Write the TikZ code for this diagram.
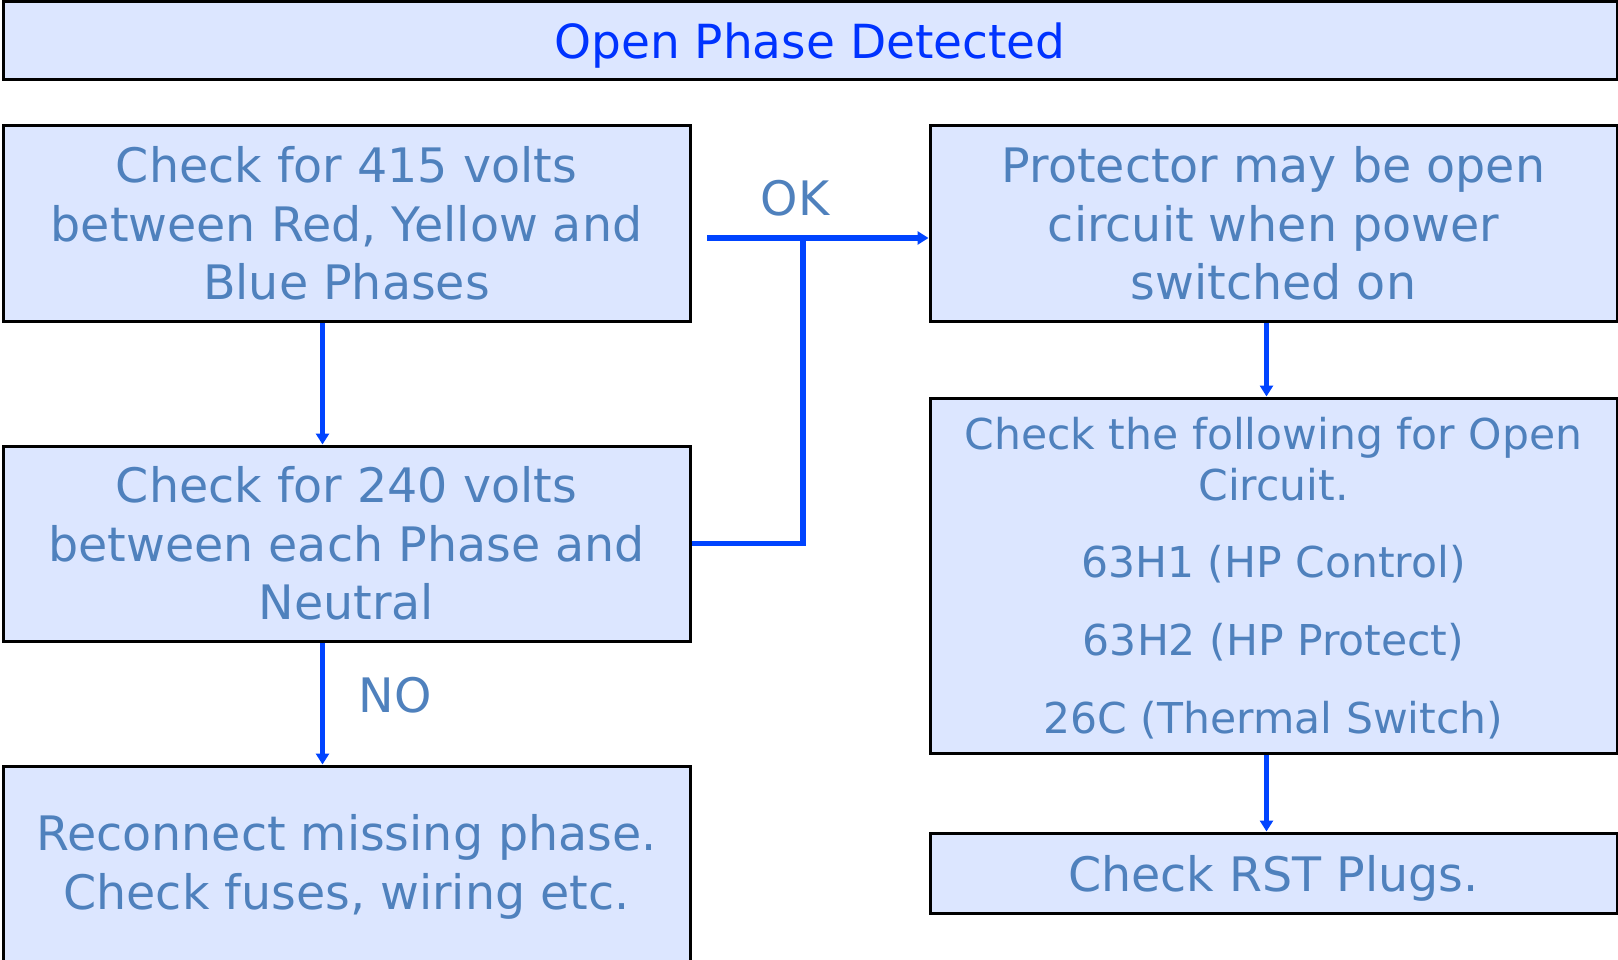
\documentclass[tikz,border=0pt]{standalone}
\usepackage{fontspec}
\setmainfont{DejaVu Sans}
\usetikzlibrary{arrows.meta}
\definecolor{boxfill}{RGB}{220,230,255}
\definecolor{txt}{RGB}{79,129,189}
\definecolor{arrblue}{RGB}{0,68,255}
\definecolor{ttlblue}{RGB}{0,51,255}
\begin{document}
\begin{tikzpicture}[x=1pt,y=-1pt,
  box/.style={draw=black,line width=3pt,fill=boxfill,inner sep=0pt,text=txt,align=center,
    font=\fontsize{47.5}{58.3}\selectfont,minimum width=687pt},
  arr/.style={draw=arrblue,line width=5.7pt,-{Triangle[width=13pt,length=11pt]}},
  ln/.style={draw=arrblue,line width=5.7pt},
  lbl/.style={text=txt,font=\fontsize{47.5}{58.3}\selectfont,inner sep=0pt,align=center}]
\useasboundingbox (0,0) rectangle (1618,960);
\clip (0,0) rectangle (1618,960);
\fill[white] (0,0) rectangle (1618,960);

\node[box,text=ttlblue,font=\fontsize{47}{56}\selectfont,text depth=0pt,minimum width=1614pt,minimum height=78pt] (title) at (810,41) {Open Phase Detected};

\node[box,minimum height=195pt] (A) at (346.5,223.5) {Check for 415 volts\\between Red, Yellow and\\Blue Phases};
\node[box,minimum height=195pt] (B) at (346.5,543.5) {Check for 240 volts\\between each Phase and\\Neutral};
\node[box,minimum height=195pt] (C) at (346.5,863.5) {};
\node[lbl] (Ctext) at (346.5,867) {Reconnect missing phase.\\Check fuses, wiring etc.};

\node[box,minimum height=195pt] (D) at (1273.5,223.5) {Protector may be open\\circuit when power\\switched on};
\node[box,minimum height=355pt] (E) at (1273.5,575.5) {};
\node[lbl,font=\fontsize{42.5}{50.6}\selectfont] (Etext) at (1273.5,578)
  {Check the following for Open\\Circuit.\\[27pt]63H1 (HP Control)\\[27pt]63H2 (HP Protect)\\[27pt]26C (Thermal Switch)};
\node[box,minimum height=80pt,text depth=0pt] (F) at (1273.5,873) {Check RST Plugs.};

\draw[arr] ([xshift=-24pt]A.south) -- ([xshift=-24pt]B.north);
\draw[arr] ([xshift=-24pt]B.south) -- ([xshift=-24pt]C.north);
\draw[arr] ([xshift=-7pt]D.south) -- ([xshift=-7pt]E.north);
\draw[arr] ([xshift=-7pt]E.south) -- ([xshift=-7pt]F.north);

\coordinate (okstart) at (707,238);
\coordinate (okjoin) at (803,238);
\draw[arr] (okstart) -- (okstart -| D.west);
\draw[ln] (B.east) -| (okjoin);

\node[lbl] (ok) at (795,198) {OK};
\node[lbl] (no) at (395,695) {NO};
\end{tikzpicture}
\end{document}
